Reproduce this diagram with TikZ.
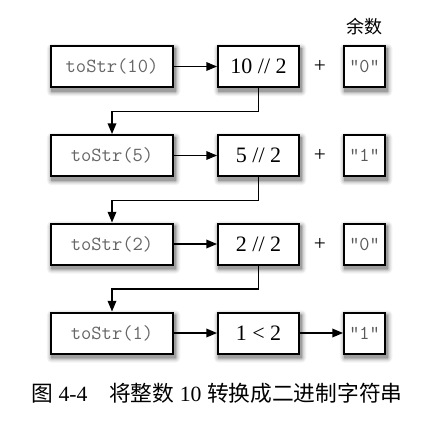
\documentclass[tikz,border=0pt]{standalone}
\usepackage{fontspec}
\setmainfont{Liberation Serif}
\newfontfamily\cjk{Noto Sans CJK SC}
\usetikzlibrary{arrows.meta}
\pgfdeclarelayer{bg}
\pgfsetlayers{bg,main}

\begin{document}
\begin{tikzpicture}[x=0.75pt,y=0.75pt,
  box/.style={draw,line width=1.5pt,fill=white,minimum height=30.75pt,inner sep=0pt},
  call/.style={box,minimum width=91.5pt,font=\fontsize{15}{17}\ttfamily,text=black!60},
  op/.style={box,minimum width=60.75pt,font=\fontsize{16.5}{18}\selectfont},
  rem/.style={box,minimum width=30.75pt,font=\fontsize{14.8}{17}\ttfamily,text=black!65},
  link/.style={line width=1pt,-{Triangle[length=8pt,width=6.5pt]}}]
\useasboundingbox (0,0) rectangle (434,-424);
\node[font=\fontsize{13.5}{16}\cjk] (head) at (364,-27) {余数};
\foreach \i/\y/\n/\v/\q in {1/66.5/10/{10 // 2}/0, 2/155.5/5/{5 // 2}/1, 3/244/2/{2 // 2}/0, 4/333/1/{1 < 2}/1} {
  \node[call] (a\i) at (112,-\y) {toStr(\n)};
  \node[op] (b\i) at (258.5,-\y) {\v};
  \node[rem] (c\i) at (364.5,-\y) {"\q"};
  \draw[link] (a\i) -- (b\i);
}
\foreach \i in {1,2,3} \node[font=\fontsize{16}{18}\selectfont] (p\i) at (320,0|-b\i) {+};
\draw[link] (b4) -- (c4);
% recursive calls
\foreach \i/\j in {1/2,2/3,3/4} \draw[link] (b\i.south) -- ++(0,-23.5) -| (a\j.north);
% soft shadows
\begin{pgfonlayer}{bg}
\foreach \nn in {a1,b1,c1,a2,b2,c2,a3,b3,c3,a4,b4,c4}
  \foreach \s/\c in {3.5pt/5,2.6pt/10,1.8pt/17,1pt/26,0.3pt/38}
    \fill[black!\c,rounded corners=\s] ([xshift=1.2pt-\s,yshift=-2.6pt-\s]\nn.south west)
      rectangle ([xshift=1.2pt+\s,yshift=-2.6pt+\s]\nn.north east);
\end{pgfonlayer}
\node[font=\fontsize{16.3}{19}\selectfont] (cap) at (217,-393)
  {{\cjk 图} 4-4\quad{\cjk 将整数} 10 {\cjk 转换成二进制字符串}};
\end{tikzpicture}
\end{document}
